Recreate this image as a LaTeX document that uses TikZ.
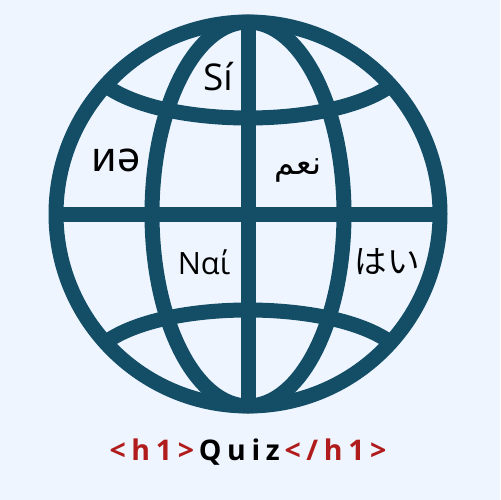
\documentclass[tikz,border=0pt]{standalone}
\usepackage{fontspec}
\setmainfont{Open Sans}
\newfontfamily\arabicfont[Script=Arabic]{DejaVu Sans}
\newfontfamily\cjkfont{Noto Sans CJK JP}
\newfontfamily\notofont{Noto Sans}
\newfontfamily\tagfont[LetterSpace=20]{Open Sans}
\TeXXeTstate=1
\definecolor{globeblue}{HTML}{134E66}
\definecolor{pagebg}{HTML}{EEF5FF}
\definecolor{tagred}{HTML}{B01C1C}
\tikzset{
    x=0.02cm, y=-0.02cm,
    globeline/.style={draw=globeblue, line width=0.3cm},
    langlabel/.style={font=\fontsize{18.5}{20}\selectfont, text=black, inner sep=0pt},
}
\begin{document}
\begin{tikzpicture}
    \fill[pagebg] (0,0) rectangle (500,500);
    \useasboundingbox (0,0) rectangle (500,500);

    \coordinate (centre) at (248,214);
    \coordinate (topleft) at (109,88);
    \coordinate (topright) at (387,88);
    \coordinate (botleft) at (109,340);
    \coordinate (botright) at (387,340);
    \coordinate (north) at (248,22);
    \coordinate (south) at (248,406);
    \coordinate (west) at (56,214);
    \coordinate (east) at (440,214);

    % meridians and equator
    \draw[globeline] (north) -- (south);
    \draw[globeline] (west) -- (east);
    \draw[globeline] (centre) ellipse [x radius=96, y radius=192];
    % latitudes
    \draw[globeline] (topleft) .. controls (170,128) and (326,128) .. (topright);
    \draw[globeline] (botleft) .. controls (170,300) and (326,300) .. (botright);
    \draw[globeline] (centre) circle [radius=192];

    \node[langlabel, font=\fontsize{21}{23}\selectfont] (si) at (218,77) {Sí};
    \node[langlabel, font=\fontsize{23.5}{26}\notofont] (ne) at (116,160) {иə};
    \node[langlabel] (naam) at (298,170) {\arabicfont\beginR نعم\endR};
    \node[langlabel, font=\fontsize{17.5}{19}\selectfont] (nai) at (204,262) {Ναί};
    \node[langlabel, font=\fontsize{18.5}{20}\cjkfont] (hai) at (387,262) {はい};
    \node[inner sep=0pt, font=\fontsize{16.2}{18}\tagfont\bfseries] (title) at (248,452)
      {\textcolor{tagred}{<h1>}\,\textcolor{black}{Quiz}\,\textcolor{tagred}{</h1>}};
\end{tikzpicture}
\end{document}
